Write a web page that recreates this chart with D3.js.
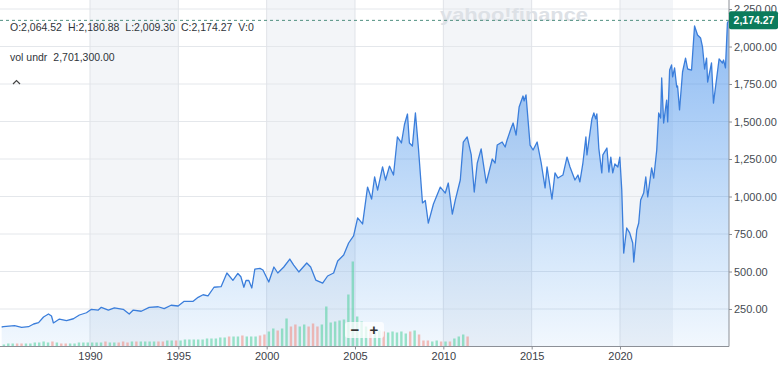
<!DOCTYPE html>
<html>
<head>
<meta charset="utf-8">
<script src="https://cdn.jsdelivr.net/npm/d3@7"></script>
<style>
  body { margin: 0; background: #fff; }
  svg { display: block; font-family: "Liberation Sans", Arial, sans-serif; }
</style>
</head>
<body>
<svg id="chart" width="780" height="370"></svg>
<script>
// price series (decimal year, close)
const priceYears = [
  1985.00, 1985.10, 1985.73, 1986.13, 1986.52, 1986.81, 1987.09, 1987.37, 1987.65, 1987.82,
  1987.93, 1988.27, 1988.67, 1989.06, 1989.40, 1989.80, 1990.08, 1990.47, 1990.64, 1991.04,
  1991.38, 1991.88, 1992.22, 1992.45, 1992.90, 1993.35, 1993.86, 1994.20, 1994.59, 1994.99,
  1995.33, 1995.84, 1996.12, 1996.40, 1996.68, 1997.02, 1997.42, 1997.75, 1998.09, 1998.37,
  1998.54, 1998.71, 1998.83, 1998.99, 1999.16, 1999.33, 1999.62, 1999.79, 2000.12, 2000.41,
  2000.63, 2000.97, 2001.31, 2001.53, 2001.82, 2002.27, 2002.49, 2002.78, 2003.17, 2003.45,
  2003.79, 2004.02, 2004.36, 2004.64, 2004.92, 2005.15, 2005.43, 2005.71, 2005.94, 2006.11,
  2006.28, 2006.56, 2006.73, 2006.95, 2007.18, 2007.40, 2007.63, 2007.80, 2007.97, 2008.08,
  2008.25, 2008.42, 2008.59, 2008.82, 2008.98, 2009.15, 2009.44, 2009.83, 2010.11, 2010.28,
  2010.51, 2010.68, 2010.96, 2011.13, 2011.35, 2011.58, 2011.75, 2011.92, 2012.14, 2012.43,
  2012.77, 2012.93, 2013.05, 2013.33, 2013.50, 2013.61, 2013.84, 2013.95, 2014.12, 2014.29,
  2014.51, 2014.57, 2014.68, 2014.91, 2015.08, 2015.31, 2015.53, 2015.76, 2015.87, 2016.15,
  2016.32, 2016.49, 2016.77, 2017.00, 2017.17, 2017.45, 2017.62, 2017.73, 2017.90, 2018.07,
  2018.13, 2018.41, 2018.52, 2018.63, 2018.69, 2018.80, 2018.97, 2019.03, 2019.26, 2019.37,
  2019.48, 2019.59, 2019.71, 2019.88, 2019.99, 2020.10, 2020.21, 2020.38, 2020.55, 2020.72,
  2020.78, 2020.95, 2021.06, 2021.17, 2021.34, 2021.46, 2021.57, 2021.79, 2021.91, 2022.08,
  2022.19, 2022.30, 2022.36, 2022.47, 2022.64, 2022.70, 2022.81, 2022.92, 2022.98, 2023.09,
  2023.21, 2023.26, 2023.37, 2023.54, 2023.71, 2023.83, 2024.05, 2024.22, 2024.39, 2024.56,
  2024.67, 2024.79, 2024.90, 2024.96, 2025.18, 2025.29, 2025.46, 2025.61, 2025.80, 2025.86,
  2025.97, 2026.08, 2026.17
]
const priceCloses = [
  130, 132, 139, 128, 132, 150, 159, 197, 217, 203,
  157, 183, 172, 185, 210, 225, 248, 243, 261, 243,
  257, 248, 217, 243, 235, 261, 265, 252, 275, 270,
  301, 301, 328, 345, 337, 395, 399, 490, 441, 487,
  465, 395, 440, 440, 390, 516, 521, 510, 430, 530,
  490, 530, 583, 543, 497, 557, 530, 443, 423, 470,
  490, 570, 610, 690, 737, 857, 817, 1063, 983, 1130,
  1043, 1197, 1110, 1203, 1143, 1397, 1357, 1480, 1550, 1357,
  1337, 1557, 1323, 957, 973, 823, 950, 1063, 1023, 1090,
  883, 977, 1110, 1363, 1397, 1277, 1030, 1223, 1317, 1090,
  1250, 1223, 1343, 1363, 1330, 1377, 1457, 1490, 1410, 1597,
  1670, 1637, 1677, 1343, 1310, 1363, 1230, 1057, 1197, 983,
  1157, 1123, 1143, 1263, 1197, 1110, 1143, 1097, 1223, 1397,
  1277, 1517, 1557, 1517, 1550, 1323, 1157, 1277, 1323, 1163,
  1263, 1157, 1217, 1197, 1263, 1043, 623, 790, 757, 690,
  563, 777, 823, 977, 1023, 1130, 997, 1190, 1123, 1310,
  1557, 1523, 1790, 1490, 1643, 1497, 1843, 1877, 1797, 1857,
  1730, 1737, 1577, 1830, 1923, 1850, 1843, 2137, 2077, 2057,
  1997, 1850, 1923, 1763, 1890, 1623, 1777, 1917, 1890, 1910,
  1857, 2157, 2174.27
]

// quarterly volume bars, starting 1985 Q1 (relative units)
const volStart = 1985
const volStep = 0.25
const volumes = [
  20, 30, 30, 30,  30, 30, 30, 40,  40, 50, 40, 50,  40, 30, 30, 30,  30, 40, 40, 40,
  40, 40, 40, 50,  40, 40, 40, 50,  40, 50, 50, 50,  50, 50, 50, 50,  50, 60, 60, 60,
  60, 70, 70, 70,  70, 70, 80, 80,  80, 90, 90, 100, 100, 100, 110, 100, 100, 100, 110, 120,
  150, 180, 160, 180, 280, 200, 220, 200, 220, 200, 230, 200, 220, 400, 240, 250,
  260, 270, 520, 850, 300, 250, 200, 170, 170, 160, 150, 140, 150, 140, 150, 130,
  150, 160, 120, 60,  60, 50, 60, 50,  50, 50, 80, 100, 120, 100
]

const yTicks = [250, 500, 750, 1000, 1250, 1500, 1750, 2000, 2250]
const xTicks = [1990, 1995, 2000, 2005, 2010, 2015, 2020]
const bands = [[1990, 1995], [2000, 2005], [2010, 2015], [2020, 2023]]

const quote = [["O", "2,064.52"], ["H", "2,180.88"], ["L", "2,009.30"], ["C", "2,174.27"], ["V", "0"]]
const lastClose = 2174.27
const volUnderlying = "2,701,300.00"

const svg = d3.select("#chart")
const plotW = 729
const plotH = 346.5

const x = d3.scaleLinear().domain([1984.906, 2026.17]).range([0, plotW])
const y = d3.scaleLinear().domain([0, 2310]).range([plotH, 0])
const yVol = d3.scaleLinear().domain([0, 1000]).range([0, 100])

const data = priceYears.map((t, i) => ({ t, v: priceCloses[i] }))

const defs = svg.append("defs")
defs.append("clipPath").attr("id", "plot-clip")
  .append("rect").attr("x", 0).attr("y", 0).attr("width", plotW).attr("height", plotH)
const grad = defs.append("linearGradient")
  .attr("id", "area-grad")
  .attr("gradientUnits", "userSpaceOnUse")
  .attr("x1", 0).attr("x2", 0)
  .attr("y1", y(lastClose)).attr("y2", plotH)
grad.append("stop").attr("offset", 0).attr("stop-color", "rgb(66,140,235)").attr("stop-opacity", 0.6)
grad.append("stop").attr("offset", 1).attr("stop-color", "rgb(66,150,235)").attr("stop-opacity", 0.07)

const plot = svg.append("g").attr("clip-path", "url(#plot-clip)")

// shaded year bands
plot.append("g").selectAll("rect")
  .data(bands)
  .enter().append("rect")
  .attr("x", d => x(d[0]))
  .attr("width", d => x(d[1]) - x(d[0]))
  .attr("y", 0)
  .attr("height", plotH)
  .attr("fill", "#f3f5f8")

// grid
plot.append("g").selectAll("line")
  .data(yTicks)
  .enter().append("line")
  .attr("x1", 0).attr("x2", plotW)
  .attr("y1", d => y(d)).attr("y2", d => y(d))
  .attr("stroke", "#e4e7eb").attr("stroke-width", 1)
plot.append("g").selectAll("line")
  .data(xTicks)
  .enter().append("line")
  .attr("x1", d => x(d)).attr("x2", d => x(d))
  .attr("y1", 0).attr("y2", plotH)
  .attr("stroke", "#e0e3e8").attr("stroke-width", 1)

// price area + line
const area = d3.area().x(d => x(d.t)).y0(plotH).y1(d => y(d.v))
const line = d3.line().x(d => x(d.t)).y(d => y(d.v))
plot.append("path").datum(data).attr("d", area).attr("fill", "url(#area-grad)")

// volume bars, coloured by price move over the quarter
const bisect = d3.bisector(d => d.t).left
const priceAt = t => {
  const i = Math.max(1, Math.min(data.length - 1, bisect(data, t)))
  const a = data[i - 1], b = data[i]
  return a.v + (b.v - a.v) * (t - a.t) / (b.t - a.t)
}
plot.append("g").selectAll("rect")
  .data(volumes)
  .enter().append("rect")
  .attr("x", (d, i) => x(volStart + i * volStep) + 1)
  .attr("width", (d, i) => x(volStart + (i + 1) * volStep) - x(volStart + i * volStep) - 2)
  .attr("y", d => plotH - yVol(d))
  .attr("height", d => yVol(d))
  .attr("fill", (d, i) => {
    const t0 = volStart + i * volStep
    return priceAt(t0 + volStep) >= priceAt(t0) ? "#4fcf9c" : "#f08a80"
  })
  .attr("opacity", 0.55)

plot.append("path").datum(data).attr("d", line)
  .attr("fill", "none").attr("stroke", "#3b7edb").attr("stroke-width", 1.3)
  .attr("stroke-linejoin", "round")

// watermark
svg.append("text")
  .attr("x", 440).attr("y", 21)
  .attr("textLength", 148).attr("lengthAdjust", "spacingAndGlyphs")
  .attr("font-size", 19).attr("font-weight", "bold")
  .attr("fill", "#dde1e6")
  .text("yahoo!finance")

// last price dashed line
svg.append("line")
  .attr("x1", 0).attr("x2", plotW)
  .attr("y1", y(lastClose)).attr("y2", y(lastClose))
  .attr("stroke", "#4f8f80").attr("stroke-width", 1).attr("stroke-dasharray", "3,3")

// axes
const yAxis = d3.axisRight(y).tickValues(yTicks).tickSize(3).tickFormat(d3.format(",.2f"))
const yg = svg.append("g").attr("transform", `translate(${plotW},0)`).call(yAxis)
yg.select(".domain").attr("d", `M0,0V${plotH}`).attr("stroke", "#8c9097")
yg.selectAll(".tick line").attr("stroke", "#8c9097")
yg.selectAll(".tick text").attr("x", 5).attr("font-size", 11).attr("fill", "#464b52")
  .attr("font-family", "Liberation Sans, Arial, sans-serif")

const xAxis = d3.axisBottom(x).tickValues(xTicks).tickSize(3).tickFormat(d3.format("d"))
const xg = svg.append("g").attr("transform", `translate(0,${plotH})`).call(xAxis)
xg.select(".domain").attr("d", `M0,0H${plotW}`).attr("stroke", "#8c9097")
xg.selectAll(".tick line").attr("stroke", "#8c9097")
xg.selectAll(".tick text").attr("y", 6).attr("font-size", 11).attr("fill", "#3c4148")
  .attr("font-family", "Liberation Sans, Arial, sans-serif")

// last price tag
const tag = svg.append("g").attr("transform", `translate(${plotW},${y(lastClose)})`)
tag.append("rect").attr("x", 0).attr("y", -9).attr("width", 49).attr("height", 18)
  .attr("rx", 2).attr("fill", "#0b7b5c")
tag.append("text").attr("x", 25).attr("y", 4).attr("text-anchor", "middle")
  .attr("font-size", 10.5).attr("font-weight", "bold").attr("fill", "#fff")
  .text(d3.format(",.2f")(lastClose))

// quote legend, items laid out one after another
const legend = svg.append("g").attr("font-size", 10.5).attr("fill", "#2f343a")
const l1 = legend.append("text").attr("y", 31)
let cx = 10
quote.forEach(([k, v]) => {
  const ts = l1.append("tspan").attr("x", cx).text(`${k}:${v}`)
  cx += ts.node().getComputedTextLength() + 6
})
const l2 = legend.append("text").attr("y", 61)
const vl = l2.append("tspan").attr("x", 10).text("vol undr")
l2.append("tspan").attr("x", 10 + vl.node().getComputedTextLength() + 6).text(volUnderlying)
legend.append("path").attr("d", "M13,84 L16.5,80.5 L20,84")
  .attr("fill", "none").attr("stroke", "#444").attr("stroke-width", 1.2)

// zoom buttons
const zb = svg.append("g").attr("transform", "translate(345,322)")
zb.append("rect").attr("width", 39).attr("height", 16).attr("rx", 3)
  .attr("fill", "#fff").attr("opacity", 0.75)
zb.append("text").attr("x", 10).attr("y", 12.5).attr("text-anchor", "middle")
  .attr("font-size", 15).attr("font-weight", "bold").attr("fill", "#333").text("−")
zb.append("text").attr("x", 29).attr("y", 12.5).attr("text-anchor", "middle")
  .attr("font-size", 15).attr("font-weight", "bold").attr("fill", "#333").text("+")
</script>
</body>
</html>
